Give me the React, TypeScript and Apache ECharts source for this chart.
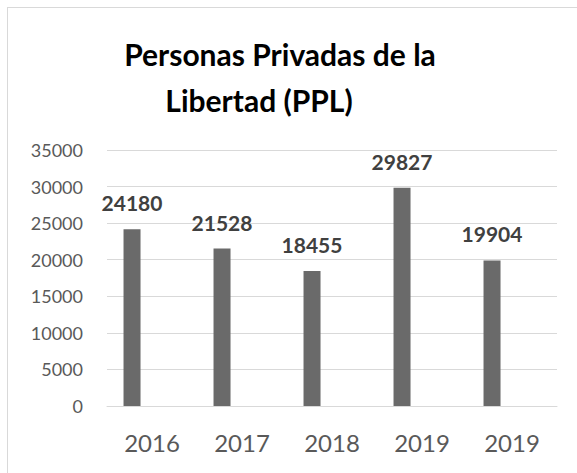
import React, { useEffect, useRef } from "react";
import * as echarts from "echarts";

const categories = ["2016", "2017", "2018", "2019", "2019"];
const values = [24180, 21528, 18455, 29827, 19904];
const emptySeries = [null, null, null, null, null];
const titleLines = ["Personas Privadas de la", "Libertad (PPL)"];

export default function App() {
  const ref = useRef<HTMLDivElement>(null);
  useEffect(() => {
    if (!ref.current) return;
    const chart = echarts.init(ref.current, null, { renderer: "svg" });
    chart.setOption({
      animation: false,
      backgroundColor: "#ffffff",
      graphic: [
        {
          type: "text",
          x: 272,
          y: 31,
          style: {
            text: titleLines[0],
            fontFamily: "Lato",
            fontWeight: "bold",
            fontSize: 30,
            fill: "#000000",
            textAlign: "center",
          },
        },
        {
          type: "text",
          x: 251,
          y: 77,
          style: {
            text: titleLines[1],
            fontFamily: "Lato",
            fontWeight: "bold",
            fontSize: 30,
            fill: "#000000",
            textAlign: "center",
          },
        },
      ],
      grid: { left: 99, top: 142, width: 450, height: 256 },
      xAxis: {
        type: "category",
        data: categories,
        axisLine: { lineStyle: { color: "#d9d9d9" } },
        axisTick: { show: false },
        axisLabel: {
          color: "#595959",
          fontFamily: "Lato",
          fontSize: 24,
          margin: 24,
        },
      },
      yAxis: {
        type: "value",
        min: 0,
        max: 35000,
        interval: 5000,
        axisLine: { show: false },
        axisTick: { show: false },
        splitLine: { lineStyle: { color: "#d9d9d9", width: 1 } },
        axisLabel: {
          color: "#595959",
          fontFamily: "Lato",
          fontSize: 18,
          margin: 24,
          formatter: (v: number) => String(v),
        },
      },
      series: [
        {
          type: "bar",
          data: values,
          barWidth: 17,
          barGap: "135%",
          itemStyle: { color: "#6a6a6a" },
          label: {
            show: true,
            position: "top",
            distance: 16,
            color: "#404040",
            fontFamily: "Lato",
            fontWeight: "bold",
            fontSize: 21,
          },
        },
        {
          type: "bar",
          data: emptySeries,
          barWidth: 17,
          itemStyle: { color: "#6a6a6a" },
        },
      ],
    });
    return () => chart.dispose();
  }, []);
  return (
    <div
      style={{
        position: "absolute",
        left: 7,
        top: 7,
        width: 570,
        height: 466,
        borderTop: "1px solid #d9d9d9",
        borderLeft: "1px solid #d9d9d9",
        boxSizing: "border-box",
      }}
    >
      <div ref={ref} style={{ width: 569, height: 465 }} />
    </div>
  );
}
